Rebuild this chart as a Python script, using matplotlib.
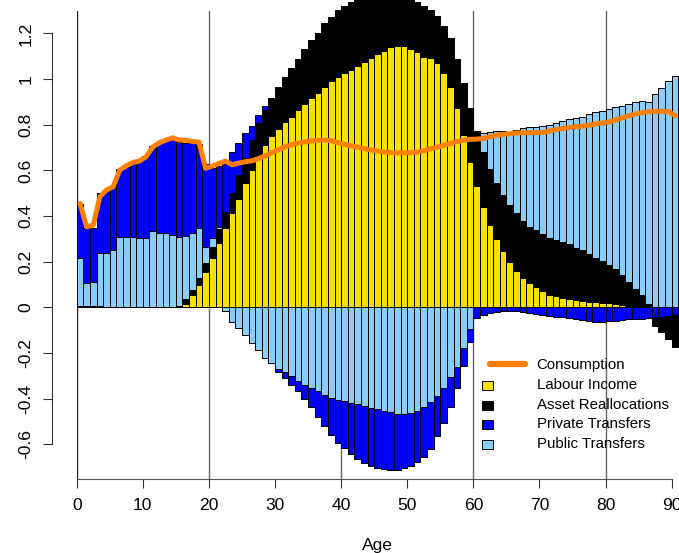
import numpy as np
import matplotlib.pyplot as plt
from matplotlib.patches import Rectangle

plt.rcParams['font.family'] = ['Liberation Sans', 'DejaVu Sans']

ages = np.arange(0, 91)

# per-capita flows by age (signed: inflows > 0, outflows < 0)
labour = np.array([
    0, 0, 0, 0, 0, 0, 0, 0, 0, 0,
    0, 0, 0, 0, 0, 0.003, 0.017, 0.054, 0.100, 0.153,
    0.215, 0.280, 0.346, 0.412, 0.474, 0.543, 0.601, 0.664, 0.711, 0.752,
    0.781, 0.810, 0.835, 0.864, 0.889, 0.915, 0.940, 0.966, 0.991, 1.010,
    1.028, 1.042, 1.058, 1.076, 1.093, 1.110, 1.124, 1.142, 1.145, 1.145,
    1.131, 1.117, 1.098, 1.091, 1.071, 1.025, 0.964, 0.874, 0.755, 0.638,
    0.531, 0.438, 0.360, 0.299, 0.247, 0.200, 0.160, 0.127, 0.105, 0.088,
    0.070, 0.056, 0.050, 0.043, 0.036, 0.031, 0.028, 0.024, 0.022, 0.020,
    0.019, 0.013, 0.010, 0.007, 0.005, 0.004, 0, 0, 0, 0,
    0])
assets = np.array([
    0.006, 0.006, 0.006, 0.006, 0, 0, 0, 0, 0, 0,
    0, 0, 0, 0, 0, 0.005, 0.018, 0.022, 0.027, 0.040,
    0.051, 0.063, 0.073, 0.087, 0.105, 0.110, 0.132, 0.142, 0.153, 0.163,
    0.183, 0.197, 0.212, 0.222, 0.241, 0.256, 0.264, 0.278, 0.282, 0.292,
    0.292, 0.297, 0.302, 0.304, 0.297, 0.290, 0.276, 0.253, 0.240, 0.225,
    0.224, 0.222, 0.222, 0.211, 0.205, 0.207, 0.214, 0.212, 0.226, 0.234,
    0.243, 0.244, 0.244, 0.247, 0.245, 0.248, 0.252, 0.251, 0.248, 0.251,
    0.250, 0.250, 0.244, 0.243, 0.240, 0.231, 0.222, 0.208, 0.195, 0.184,
    0.166, 0.153, 0.132, 0.106, 0.075, 0.051, 0.013, -0.038, -0.067, -0.103,
    -0.141])
private = np.array([
    0.240, 0.240, 0.237, 0.262, 0.274, 0.277, 0.295, 0.307, 0.322, 0.343,
    0.355, 0.374, 0.393, 0.405, 0.428, 0.416, 0.409, 0.397, 0.366, 0.362,
    0.307, 0.267, 0.210, 0.183, 0.139, 0.110, 0.063, 0.036, 0.018, 0,
    -0.012, -0.025, -0.036, -0.045, -0.061, -0.083, -0.112, -0.135, -0.163, -0.188,
    -0.208, -0.222, -0.241, -0.248, -0.254, -0.255, -0.255, -0.253, -0.248, -0.238,
    -0.229, -0.221, -0.220, -0.207, -0.173, -0.152, -0.128, -0.095, -0.077, -0.057,
    -0.045, -0.034, -0.026, -0.020, -0.018, -0.015, -0.018, -0.020, -0.023, -0.029,
    -0.034, -0.037, -0.040, -0.044, -0.048, -0.052, -0.055, -0.058, -0.062, -0.062,
    -0.060, -0.058, -0.055, -0.053, -0.052, -0.050, -0.047, -0.042, -0.040, -0.037,
    -0.034])
public = np.array([
    0.209, 0.103, 0.106, 0.231, 0.240, 0.251, 0.309, 0.309, 0.309, 0.302,
    0.305, 0.334, 0.328, 0.328, 0.317, 0.301, 0.277, 0.248, 0.222, 0.073,
    0.036, 0.010, -0.018, -0.062, -0.092, -0.123, -0.155, -0.187, -0.221, -0.245,
    -0.270, -0.285, -0.302, -0.322, -0.341, -0.353, -0.367, -0.384, -0.396, -0.405,
    -0.410, -0.418, -0.425, -0.432, -0.440, -0.447, -0.455, -0.460, -0.465, -0.467,
    -0.464, -0.455, -0.435, -0.413, -0.389, -0.355, -0.307, -0.260, -0.180, -0.096,
    0, 0.084, 0.165, 0.226, 0.282, 0.321, 0.365, 0.409, 0.435, 0.452,
    0.475, 0.494, 0.514, 0.529, 0.547, 0.568, 0.584, 0.617, 0.640, 0.657,
    0.684, 0.710, 0.740, 0.776, 0.818, 0.847, 0.888, 0.933, 0.962, 0.993,
    1.013])
consumption = np.array([
    0.455, 0.353, 0.360, 0.484, 0.514, 0.528, 0.601, 0.620, 0.635, 0.641,
    0.660, 0.703, 0.721, 0.733, 0.743, 0.733, 0.732, 0.727, 0.724, 0.609,
    0.619, 0.630, 0.641, 0.625, 0.632, 0.638, 0.642, 0.652, 0.664, 0.678,
    0.690, 0.703, 0.713, 0.720, 0.725, 0.729, 0.732, 0.733, 0.730, 0.722,
    0.714, 0.708, 0.702, 0.695, 0.690, 0.685, 0.681, 0.678, 0.677, 0.677,
    0.678, 0.680, 0.686, 0.694, 0.702, 0.710, 0.718, 0.726, 0.732, 0.736,
    0.737, 0.740, 0.748, 0.754, 0.758, 0.761, 0.764, 0.765, 0.765, 0.765,
    0.766, 0.772, 0.779, 0.784, 0.788, 0.791, 0.794, 0.798, 0.803, 0.808,
    0.812, 0.820, 0.830, 0.840, 0.847, 0.853, 0.857, 0.858, 0.859, 0.858,
    0.840])

col_lab = '#F8E000'
col_ass = 'black'
col_pri = '#0000FF'
col_pub = '#87CEFA'
col_con = '#FF7F00'

fig = plt.figure(figsize=(6.79, 5.53), dpi=100)
W, H = 679, 553
# plot region in pixels: x 0..91 -> 76.7..678.3, y -0.753..1.3 -> 479.3..10.6
ax = fig.add_axes([76.7 / W, (H - 479.3) / H, 601.6 / W, 468.7 / H])
ax.set_xlim(0, 91)
ax.set_ylim(-0.753, 1.3)

for v in [0, 20, 40, 60, 80]:
    ax.axvline(v, color='#222222' if v == 0 else '#666666', lw=1, zorder=1)

# positive stack: labour, assets, public, private
bottom = np.zeros(len(ages))
for vals, c in [(labour, col_lab), (assets, col_ass), (public, col_pub), (private, col_pri)]:
    h = np.clip(vals, 0, None)
    ax.bar(ages + 0.5, h, width=1, bottom=bottom, color=c, edgecolor='black',
           linewidth=0.7, clip_on=False, zorder=2)
    bottom = bottom + h

# negative stack: public, private, assets
bottom = np.zeros(len(ages))
for vals, c in [(public, col_pub), (private, col_pri), (assets, col_ass)]:
    h = np.clip(vals, None, 0)
    ax.bar(ages + 0.5, h, width=1, bottom=bottom, color=c, edgecolor='black',
           linewidth=0.7, clip_on=False, zorder=2)
    bottom = bottom + h

ax.plot(ages + 0.5, consumption, color=col_con, lw=3.6, solid_capstyle='round',
        solid_joinstyle='round', zorder=3, clip_on=False)

# axes in R style
for s in ['top', 'right']:
    ax.spines[s].set_visible(False)
ax.spines['left'].set_position(('outward', 17.6))
ax.spines['left'].set_bounds(-0.6, 1.2)
ax.spines['bottom'].set_bounds(0, 90)
ax.spines['left'].set_color('#333333')
ax.spines['bottom'].set_color('#555555')

yt = [-0.6, -0.4, -0.2, 0, 0.2, 0.4, 0.6, 0.8, 1.0, 1.2]
ax.set_yticks(yt)
ax.set_yticklabels(['-0.6', '-0.4', '-0.2', '0', '0.2', '0.4', '0.6', '0.8', '1', '1.2'],
                   rotation=90, va='center')
ax.set_xticks(range(0, 91, 10))
ax.tick_params(axis='both', length=6.5, width=0.8, color='#333333', labelsize=12.6)
ax.tick_params(axis='x', pad=7)
ax.tick_params(axis='y', pad=7)
ax.set_xlabel('Age', fontsize=12.6, labelpad=18)

# legend, drawn in data coordinates
def px(x):
    return (x - 76.7) / 6.611


def py(y):
    return (307.3 - y) / 228.3


ax.plot([px(490), px(525)], [py(364), py(364)], color=col_con, lw=4.5,
        solid_capstyle='round', zorder=4)
ax.text(px(536.7), py(365), 'Consumption', fontsize=10.8, va='center', zorder=4)
items = [('Labour Income', col_lab, 385), ('Asset Reallocations', col_ass, 405),
         ('Private Transfers', col_pri, 424.3), ('Public Transfers', col_pub, 444)]
for label, c, yy in items:
    ax.add_patch(Rectangle((px(481.7), py(yy + 4.5)), px(493.3) - px(481.7), 9 / 228.3,
                           facecolor=c, edgecolor='black', linewidth=0.7, zorder=4))
    ax.text(px(536.7), py(yy), label, fontsize=10.8, va='center', zorder=4)

fig.savefig('out.png', dpi=100)
